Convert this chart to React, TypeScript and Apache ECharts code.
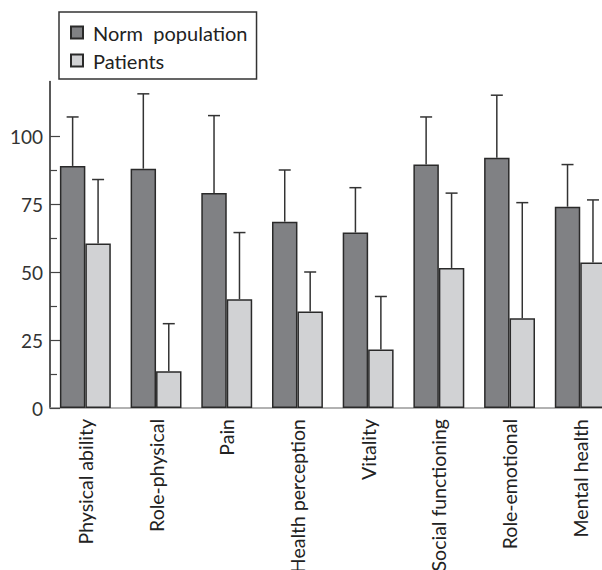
import React, { useEffect, useRef } from "react";
import * as echarts from "echarts";

const categories = [
  "Physical ability",
  "Role-physical",
  "Pain",
  "Health perception",
  "Vitality",
  "Social functioning",
  "Role-emotional",
  "Mental health",
];
const normMean = [89, 88, 79, 68.5, 64.5, 89.5, 92, 74];
const normSD = [18, 27.5, 28.5, 19, 16.5, 17.5, 23, 15.5];
const patientMean = [60.5, 13.5, 40, 35.5, 21.5, 51.5, 33, 53.5];
const patientSD = [23.5, 17.5, 24.5, 14.5, 19.5, 27.5, 42.5, 23];
const yMajorTicks = [0, 25, 50, 75, 100];
const yMinorTicks = [12.5, 37.5, 62.5, 87.5];

const FONT = "Lato, 'Open Sans', sans-serif";
const GAP = 0.28;

function errorSeries(name: string, mean: number[], sd: number[], side: number) {
  return {
    type: "custom",
    name: name + " SD",
    xAxisIndex: 0,
    yAxisIndex: 0,
    encode: { x: 0, y: [1, 2] },
    data: mean.map((m, i) => [i, m, m + sd[i]]),
    z: 5,
    renderItem: (params: any, api: any) => {
      const idx = api.value(0);
      const p0 = api.coord([idx, api.value(1)]);
      const p1 = api.coord([idx, api.value(2)]);
      const catW = api.size([1, 0])[0];
      const bw = (catW * (1 - GAP)) / 2;
      const x = p0[0] + (side * bw) / 2;
      const style = { stroke: "#333", lineWidth: 1.5 };
      return {
        type: "group",
        children: [
          { type: "line", shape: { x1: x, y1: p0[1], x2: x, y2: p1[1] }, style },
          { type: "line", shape: { x1: x - 6, y1: p1[1], x2: x + 6, y2: p1[1] }, style },
        ],
      };
    },
  };
}

export default function App() {
  const ref = useRef<HTMLDivElement>(null);
  useEffect(() => {
    document.body.style.margin = "0";
    const chart = echarts.init(ref.current!, undefined, { renderer: "svg" });
    chart.setOption({
      animation: false,
      backgroundColor: "#fff",
      textStyle: { fontFamily: FONT },
      legend: {
        orient: "vertical",
        left: 59,
        top: 12,
        data: ["Norm  population", "Patients"],
        itemWidth: 12,
        itemHeight: 12,
        itemGap: 8,
        padding: [10.5, 9, 8.5, 11],
        borderColor: "#333",
        borderWidth: 1.5,
        icon: "rect",
        textStyle: { fontSize: 20, color: "#222", fontFamily: FONT, padding: [0, 0, 0, 5] },
      },
      grid: {
        left: 50,
        top: 81.6,
        right: -13.6,
        bottom: 162,
        containLabel: false,
        outerBoundsMode: "none",
      },
      xAxis: {
        type: "category",
        data: categories,
        axisLine: { show: true, lineStyle: { color: "#999", width: 1.5 } },
        axisTick: { show: false },
        axisLabel: {
          rotate: 90,
          interval: 0,
          margin: 11,
          fontSize: 19.5,
          color: "#222",
          fontFamily: FONT,
        },
      },
      yAxis: [
        {
          type: "value",
          min: 0,
          max: 120,
          splitLine: { show: false },
          axisLine: { show: true, lineStyle: { color: "#222", width: 1.5 } },
          axisTick: { show: true, inside: true, length: 10, customValues: yMajorTicks, lineStyle: { color: "#444", width: 1.2 } },
          axisLabel: { customValues: yMajorTicks, fontSize: 19, color: "#333", margin: 7, fontFamily: FONT },
        },
        {
          type: "value",
          min: 0,
          max: 120,
          position: "left",
          splitLine: { show: false },
          axisLine: { show: false },
          axisTick: { show: true, inside: true, length: 7, customValues: yMinorTicks, lineStyle: { color: "#444", width: 1.2 } },
          axisLabel: { show: false },
        },
      ],
      series: [
        {
          type: "bar",
          name: "Norm  population",
          data: normMean,
          barGap: "0%",
          barCategoryGap: GAP * 100 + "%",
          itemStyle: { color: "#808184", borderColor: "#2a2a2a", borderWidth: 1.5 },
        },
        {
          type: "bar",
          name: "Patients",
          data: patientMean,
          barGap: "0%",
          barCategoryGap: GAP * 100 + "%",
          itemStyle: { color: "#d1d2d4", borderColor: "#2a2a2a", borderWidth: 1.5 },
        },
        errorSeries("Norm", normMean, normSD, -1),
        errorSeries("Patients", patientMean, patientSD, 1),
      ],
    });
    return () => chart.dispose();
  }, []);
  return <div ref={ref} style={{ width: 602, height: 570 }} />;
}
